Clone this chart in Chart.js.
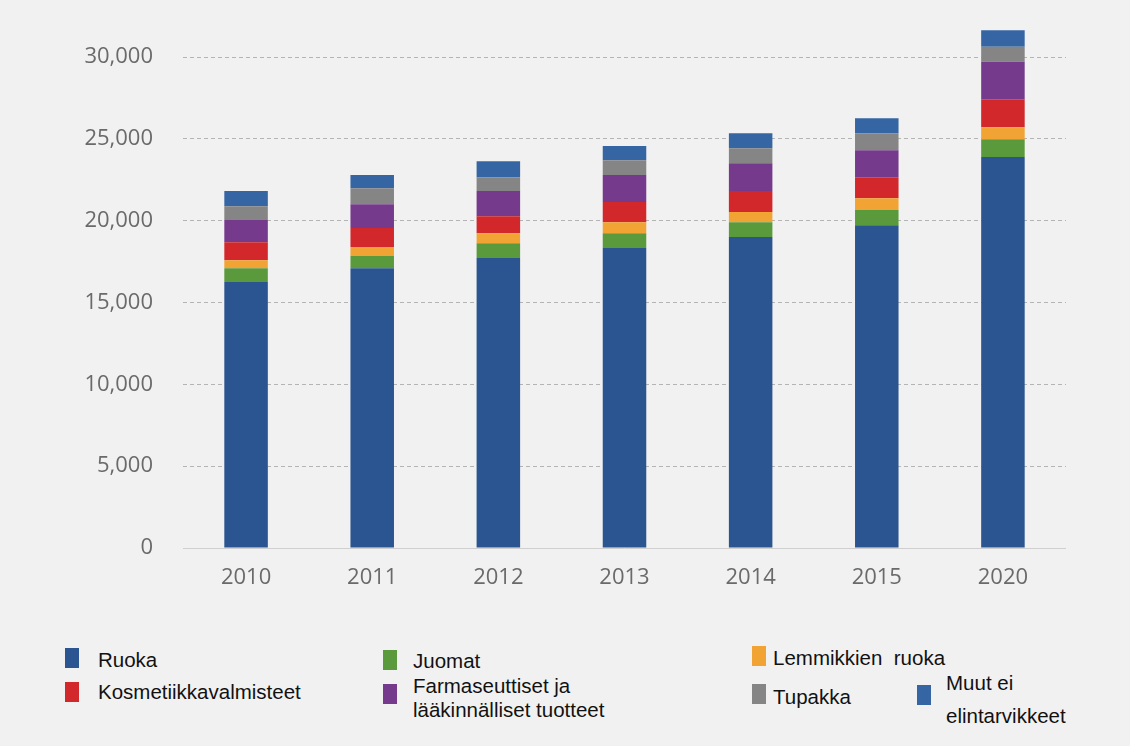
<!DOCTYPE html>
<html>
<head>
<meta charset="utf-8">
<script src="https://cdn.jsdelivr.net/npm/chart.js@4/dist/chart.umd.min.js"></script>
<style>
  body { margin: 0; background: #f1f1f1; width: 1130px; height: 746px; overflow: hidden; position: relative; }
  #wrap { position: absolute; left: 0; top: 0; width: 1130px; height: 600px; }
  .lg { position: absolute; font-family: "Liberation Sans", Arial, sans-serif; font-size: 20.5px; color: #111; line-height: 24px; white-space: nowrap; }
  .sw { position: absolute; width: 14px; height: 20px; }
</style>
</head>
<body>
<div id="wrap"><canvas id="chart" width="1130" height="600"></canvas></div>
<div id="legend"></div>
<script>
// years and values
const years = ['2010', '2011', '2012', '2013', '2014', '2015', '2020'];
const ruoka = [16250, 17100, 17720, 18330, 19000, 19730, 23890];
const juomat = [850, 740, 910, 910, 910, 920, 1090];
const lemmikkienRuoka = [490, 550, 610, 670, 620, 730, 740];
const kosmetiikka = [1100, 1160, 1040, 1230, 1280, 1280, 1710];
const farmaseuttiset = [1350, 1460, 1530, 1650, 1710, 1650, 2290];
const tupakka = [850, 980, 850, 910, 910, 1040, 910];
const muut = [920, 800, 980, 860, 920, 920, 1010];
const yTicks = [0, 5000, 10000, 15000, 20000, 25000, 30000];

const series = [
  { label: 'Ruoka', data: ruoka, color: '#2b5590' },
  { label: 'Juomat', data: juomat, color: '#5b9a3c' },
  { label: 'Lemmikkien ruoka', data: lemmikkienRuoka, color: '#f1a433' },
  { label: 'Kosmetiikkavalmisteet', data: kosmetiikka, color: '#d2282b' },
  { label: 'Farmaseuttiset ja lääkinnälliset tuotteet', data: farmaseuttiset, color: '#763a8c' },
  { label: 'Tupakka', data: tupakka, color: '#858585' },
  { label: 'Muut ei elintarvikkeet', data: muut, color: '#3566a3' },
];

new Chart(document.getElementById('chart'), {
  type: 'bar',
  data: {
    labels: years,
    datasets: series.map((s) => ({
      label: s.label,
      data: s.data,
      backgroundColor: s.color,
      borderWidth: 0,
      categoryPercentage: 1,
      barPercentage: 0.345,
      clip: false,
    })),
  },
  options: {
    responsive: false,
    animation: false,
    devicePixelRatio: 1,
    layout: { padding: { top: 6, right: 64, left: 0, bottom: 0 } },
    plugins: { legend: { display: false }, tooltip: { enabled: false } },
    scales: {
      x: {
        stacked: true,
        grid: { display: false, drawTicks: false },
        border: { display: false },
        ticks: { color: '#6a6a6a', padding: 17, font: { family: 'Open Sans', size: 22 } },
        afterFit: (s) => { s.height = 52; },
      },
      y: {
        stacked: true,
        min: 0,
        // the axis top sits where the tick padding puts it; the 2020 bar runs above it
        max: 30850,
        afterBuildTicks: (s) => { s.ticks = yTicks.map((v) => ({ value: v })); },
        grid: {
          drawTicks: false,
          color: (c) => (c.tick && c.tick.value === 0 ? '#cfcfcf' : '#b4b4b4'),
          lineWidth: 1,
        },
        border: {
          display: false,
          dash: (c) => (c.tick && c.tick.value === 0 ? [] : [4, 3]),
        },
        ticks: {
          color: '#6a6a6a',
          padding: 30,
          font: { family: 'Open Sans', size: 22 },
          callback: (v) => v.toLocaleString('en-US'),
        },
        afterFit: (s) => { s.width = 183; },
      },
    },
  },
});

// legend laid out like the reference (three loose columns)
const legendItems = [
  { i: 0, sx: 65, sy: 648, tx: 98, ty: [648], text: ['Ruoka'] },
  { i: 1, sx: 383, sy: 650, tx: 413, ty: [649], text: ['Juomat'] },
  { i: 2, sx: 752, sy: 646, tx: 773, ty: [646], text: ['Lemmikkien&nbsp; ruoka'] },
  { i: 3, sx: 65, sy: 682, tx: 98, ty: [680], text: ['Kosmetiikkavalmisteet'] },
  { i: 4, sx: 383, sy: 684, tx: 413, ty: [674, 698], text: ['Farmaseuttiset ja', 'lääkinnälliset tuotteet'] },
  { i: 5, sx: 752, sy: 684, tx: 773, ty: [685], text: ['Tupakka'] },
  { i: 6, sx: 917, sy: 685, tx: 946, ty: [671, 704], text: ['Muut ei', 'elintarvikkeet'] },
];
const lg = document.getElementById('legend');
legendItems.forEach((it) => {
  const sw = document.createElement('div');
  sw.className = 'sw';
  sw.style.left = it.sx + 'px';
  sw.style.top = it.sy + 'px';
  sw.style.background = series[it.i].color;
  lg.appendChild(sw);
  it.text.forEach((line, k) => {
    const t = document.createElement('div');
    t.className = 'lg';
    t.style.left = it.tx + 'px';
    t.style.top = it.ty[k] + 'px';
    t.innerHTML = line;
    lg.appendChild(t);
  });
});
</script>
</body>
</html>
